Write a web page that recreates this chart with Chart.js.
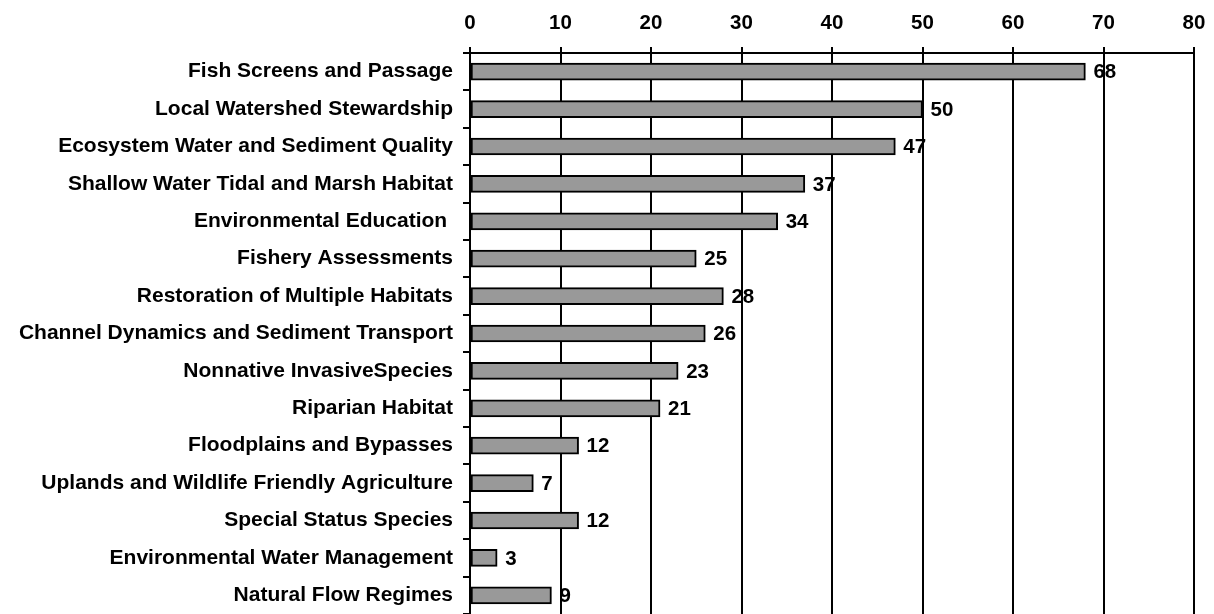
<!DOCTYPE html>
<html>
<head>
<meta charset="utf-8">
<script src="https://cdn.jsdelivr.net/npm/chart.js@4.4.0/dist/chart.umd.min.js"></script>
<style>
  body { margin: 0; background: #fff; }
  #wrap { width: 1214px; height: 614px; }
</style>
</head>
<body>
<div id="wrap"><canvas id="projectChart"></canvas></div>
<script>
const categories = [
    'Fish Screens and Passage',
    'Local Watershed Stewardship',
    'Ecosystem Water and Sediment Quality',
    'Shallow Water Tidal and Marsh Habitat',
    'Environmental Education ',
    'Fishery Assessments',
    'Restoration of Multiple Habitats',
    'Channel Dynamics and Sediment Transport',
    'Nonnative InvasiveSpecies',
    'Riparian Habitat',
    'Floodplains and Bypasses',
    'Uplands and Wildlife Friendly Agriculture',
    'Special Status Species',
    'Environmental Water Management',
    'Natural Flow Regimes'
];
const projectCounts = [68, 50, 47, 37, 34, 25, 28, 26, 23, 21, 12, 7, 12, 3, 9];
const xTicks = [0, 10, 20, 30, 40, 50, 60, 70, 80];

const fontFamily = "'Liberation Sans', Arial, sans-serif";

// draw the value next to the end of each bar
const valueLabels = {
    id: 'valueLabels',
    afterDatasetsDraw(chart) {
        const ctx = chart.ctx;
        const meta = chart.getDatasetMeta(0);
        ctx.save();
        ctx.font = 'bold 20.5px ' + fontFamily;
        ctx.fillStyle = '#000';
        ctx.textAlign = 'left';
        ctx.textBaseline = 'middle';
        meta.data.forEach((bar, i) => {
            ctx.fillText(String(projectCounts[i]), bar.x + 8, bar.y + 1);
        });
        ctx.restore();
    }
};

const ctx = document.getElementById('projectChart').getContext('2d');
new Chart(ctx, {
    type: 'bar',
    data: {
        labels: categories,
        datasets: [{
            data: projectCounts,
            backgroundColor: '#999999',
            borderColor: '#000000',
            borderWidth: 2,
            borderSkipped: false,
            barThickness: 17
        }]
    },
    options: {
        indexAxis: 'y',
        responsive: true,
        maintainAspectRatio: false,
        animation: false,
        layout: { padding: { top: 0, right: 20, bottom: 0, left: 0 } },
        plugins: {
            legend: { display: false },
            tooltip: { enabled: false }
        },
        scales: {
            x: {
                position: 'top',
                min: 0,
                max: 80,
                afterBuildTicks: scale => { scale.ticks = xTicks.map(v => ({ value: v })); },
                afterFit: scale => {
                    scale.height = 53;
                    scale.paddingLeft = 0;
                    scale.paddingRight = 0;
                },
                ticks: {
                    color: '#000',
                    font: { family: fontFamily, size: 20.5, weight: 'bold' },
                    padding: 11
                },
                grid: { color: '#000', lineWidth: 2, tickLength: 6 },
                border: { color: '#000', width: 2 }
            },
            y: {
                afterFit: scale => {
                    scale.width = 470;
                    scale.paddingTop = 0;
                    scale.paddingBottom = 0;
                },
                ticks: {
                    color: '#000',
                    font: { family: fontFamily, size: 21, weight: 'bold' },
                    padding: 10,
                    autoSkip: false
                },
                grid: { offset: true, drawOnChartArea: false, color: '#000', lineWidth: 2, tickLength: 7 },
                border: { color: '#000', width: 2 }
            }
        }
    },
    plugins: [valueLabels]
});
</script>
</body>
</html>
